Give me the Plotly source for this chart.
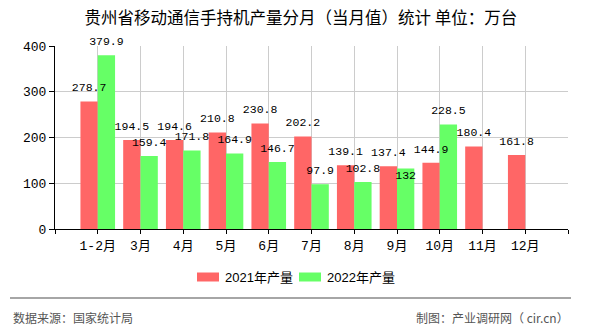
import plotly.graph_objects as go

months = ["1-2月", "3月", "4月", "5月", "6月", "7月", "8月", "9月", "10月", "11月", "12月"]
y2021 = [278.7, 194.5, 194.6, 210.8, 230.8, 202.2, 139.1, 137.4, 144.9, 180.4, 161.8]
y2022 = [379.9, 159.4, 171.8, 164.9, 146.7, 97.9, 102.8, 132, 228.5, None, None]
name2021 = "2021年产量"
name2022 = "2022年产量"
yticks = [0, 100, 200, 300, 400]

W, H = 590, 330
L, R, T, B = 55, 568, 46, 229

def px(x):
    return (x - L) / (R - L)

def py(y):
    return (B - y) / (B - T)

xs = list(range(len(months)))
mono = "Liberation Mono, Noto Sans CJK SC, monospace"
cjk = "Noto Sans CJK SC, sans-serif"

def fmt(v):
    return "" if v is None else ("%g" % v)

GAP = 0.19
fig = go.Figure()
fig.add_trace(go.Bar(x=xs, y=y2021, name=name2021, offsetgroup="a",
                     marker=dict(color="#FF6666", line=dict(width=0))))
fig.add_trace(go.Bar(x=xs, y=y2022, name=name2022, offsetgroup="b",
                     marker=dict(color="#66FF66", line=dict(width=0))))
# data labels drawn above all bars
fig.add_trace(go.Scatter(x=xs, y=y2021, mode="markers+text", offsetgroup="a",
                         marker=dict(size=10, opacity=0),
                         text=[fmt(v) for v in y2021], textposition="top center",
                         textfont=dict(family=mono, size=11.5, color="#000"),
                         cliponaxis=False, hoverinfo="skip"))
pos2022 = ["bottom center" if v == 132 else "top center" for v in y2022]
size2022 = [2 if v == 132 else 10 for v in y2022]
fig.add_trace(go.Scatter(x=xs, y=y2022, mode="markers+text", offsetgroup="b",
                         marker=dict(size=size2022, opacity=0),
                         text=[fmt(v) for v in y2022], textposition=pos2022,
                         textfont=dict(family=mono, size=11.5, color="#000"),
                         cliponaxis=False, hoverinfo="skip"))

fig.update_layout(
    width=W, height=H,
    margin=dict(l=L, r=W - R, t=T, b=H - B),
    paper_bgcolor="white", plot_bgcolor="white",
    barmode="group", bargap=GAP, bargroupgap=0,
    scattermode="group", scattergap=GAP,
    showlegend=False,
    title=dict(text="贵州省移动通信手持机产量分月（当月值）统计 单位：万台",
               x=0.51, xanchor="center", y=1 - 18 / H, yanchor="middle",
               font=dict(family=cjk, size=16.5, color="#000")),
)
fig.update_xaxes(
    range=[-1, 11], tickmode="array",
    tickvals=list(range(-1, 12)), ticktext=[""] + months + [""],
    showgrid=True, gridcolor="#CCCCCC", gridwidth=1,
    showline=True, linecolor="#000", linewidth=1,
    ticks="outside", ticklen=4, tickcolor="#000",
    tickfont=dict(family=mono, size=13, color="#000"), zeroline=False,
)
fig.update_yaxes(
    range=[0, 400], tickvals=yticks,
    showgrid=True, gridcolor="#CCCCCC", gridwidth=1,
    showline=True, linecolor="#000", linewidth=1,
    ticks="outside", ticklen=5, tickcolor="#000",
    tickfont=dict(family=mono, size=13, color="#000"), zeroline=False,
)

shapes = []
ann = []
# legend
for x0, col, name in [(197, "#FF6666", name2021), (299, "#66FF66", name2022)]:
    shapes.append(dict(type="rect", xref="paper", yref="paper",
                       x0=px(x0), x1=px(x0 + 22), y0=py(281.5), y1=py(272.5),
                       fillcolor=col, line=dict(width=0)))
    ann.append(dict(xref="paper", yref="paper", x=px(x0 + 26), y=py(277),
                    xanchor="left", yanchor="middle", showarrow=False, text=name,
                    font=dict(family="Liberation Sans, Noto Sans CJK SC", size=13, color="#000")))
# footer line
shapes.append(dict(type="line", xref="paper", yref="paper",
                   x0=px(10), x1=px(571), y0=py(298), y1=py(298),
                   line=dict(color="#888888", width=1.5)))
ann.append(dict(xref="paper", yref="paper", x=px(11), y=py(317), xanchor="left", yanchor="middle",
                showarrow=False, text="数据来源：国家统计局",
                font=dict(family=cjk, size=12, color="#555")))
ann.append(dict(xref="paper", yref="paper", x=px(571), y=py(317), xanchor="right", yanchor="middle",
                showarrow=False, text="制图：产业调研网（ cir.cn）",
                font=dict(family=cjk, size=12, color="#555")))
fig.update_layout(shapes=shapes, annotations=ann)

fig.write_html("out.html")
